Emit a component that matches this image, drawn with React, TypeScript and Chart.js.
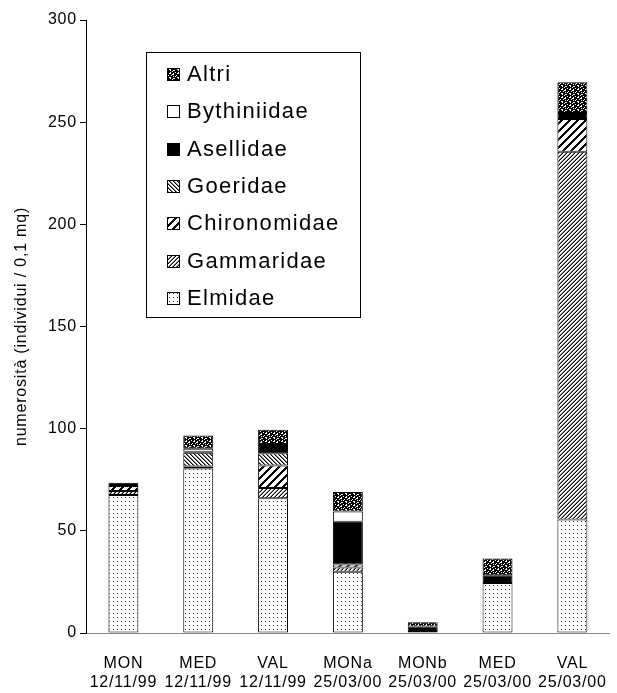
import React, { useEffect, useRef } from "react";
import { Chart, registerables } from "chart.js";

Chart.register(...registerables);

// ---- data ----
const categories: string[][] = [
  ["MON", "12/11/99"],
  ["MED", "12/11/99"],
  ["VAL", "12/11/99"],
  ["MONa", "25/03/00"],
  ["MONb", "25/03/00"],
  ["MED", "25/03/00"],
  ["VAL", "25/03/00"],
];
const elmidae = [67.5, 80.5, 66, 30, 0.5, 24.5, 55.5];
const gammaridae = [2, 0, 5, 2, 0, 0, 180];
const chironomidae = [2.5, 1, 11, 1.5, 0, 0, 16];
const goeridae = [0, 6.7, 6, 0, 0, 0, 0];
const asellidae = [1.5, 0.5, 4.5, 21, 2.7, 3.8, 3];
const bythiniidae = [0, 1.5, 0, 5, 0, 0, 0];
const altri = [0, 6.5, 7, 9.5, 2, 8.2, 15];
const seriesNames = ["Elmidae", "Gammaridae", "Chironomidae", "Goeridae", "Asellidae", "Bythiniidae", "Altri"];
const yMin = 0;
const yMax = 300;
const yStep = 50;
const yTitle = "numerosità (individui / 0,1 mq)";

const FONT = "'Liberation Sans', Arial, sans-serif";

function tileFrom(rows: string[], colors: Record<string, string>): HTMLCanvasElement {
  const c = document.createElement("canvas");
  c.width = rows[0].length;
  c.height = rows.length;
  const g = c.getContext("2d")!;
  g.fillStyle = "#fff";
  g.fillRect(0, 0, c.width, c.height);
  rows.forEach((r, y) => {
    for (let x = 0; x < r.length; x++) {
      const col = colors[r[x]];
      if (col) {
        g.fillStyle = col;
        g.fillRect(x, y, 1, 1);
      }
    }
  });
  return c;
}

function makeTiles(): HTMLCanvasElement[] {
  const elm = tileFrom(["....", ".X..", "....", "...."], { X: "#333" });
  const gam = tileFrom(["..gX", ".gX.", "gX..", "X..g"], { X: "#000", g: "#888" });
  const chi = tileFrom(
    ["XXX.....", "XX.....X", "X.....XX", ".....XXX", "....XXX.", "...XXX..", "..XXX...", ".XXX...."],
    { X: "#000" }
  );
  const goe = tileFrom(["Xg..", ".Xg.", "..Xg", "g..X"], { X: "#000", g: "#777" });
  const ase = tileFrom(["X"], { X: "#000" });
  const byt = tileFrom(["."], {});
  const alt = tileFrom(
    [
      "XX.XXXX.",
      "X..XX.XX",
      "XXXX..XX",
      ".XX.XXXX",
      "XXXXX.X.",
      "X..XXXXX",
      "XX.XX..X",
      "XXXX.XXX",
    ],
    { X: "#000" }
  );
  return [elm, gam, chi, goe, ase, byt, alt];
}

export default function App() {
  const ref = useRef<HTMLCanvasElement | null>(null);

  useEffect(() => {
    const canvas = ref.current!;
    const ctx = canvas.getContext("2d")!;
    const tiles = makeTiles();
    const patterns = tiles.map((t) => ctx.createPattern(t, "repeat")!);
    const seriesData = [elmidae, gammaridae, chironomidae, goeridae, asellidae, bythiniidae, altri];

    const spacingPlugin = {
      id: "spacing",
      beforeDraw(chart: any) {
        chart.ctx.letterSpacing = "0.8px";
      },
    };

    const legendPlugin = {
      id: "boxLegend",
      afterDraw(chart: any) {
        const c = chart.ctx as CanvasRenderingContext2D;
        const area = chart.chartArea;
        const bx = area.left + 60;
        const by = area.top + 32;
        const bw = 214;
        const bh = 265;
        c.save();
        c.fillStyle = "#fff";
        c.fillRect(bx, by, bw, bh);
        c.strokeStyle = "#000";
        c.lineWidth = 1;
        c.strokeRect(bx + 0.5, by + 0.5, bw, bh);
        (c as any).letterSpacing = "1.3px";
        c.font = `22px ${FONT}`;
        c.textBaseline = "middle";
        c.textAlign = "left";
        const order = [6, 5, 4, 3, 2, 1, 0];
        order.forEach((si, i) => {
          const cy = by + 22 + i * 37.3;
          const sx = bx + 21;
          c.fillStyle = patterns[si];
          c.fillRect(sx, Math.round(cy - 6), 13, 13);
          c.strokeStyle = "#000";
          c.strokeRect(sx + 0.5, Math.round(cy - 6) + 0.5, 12, 12);
          c.fillStyle = "#000";
          c.fillText(seriesNames[si], bx + 41, cy + 1);
        });
        c.restore();
      },
    };

    const chart = new Chart(ctx, {
      type: "bar",
      data: {
        labels: categories as any,
        datasets: seriesNames.map((name, i) => ({
          label: name,
          data: seriesData[i],
          backgroundColor: patterns[i] as any,
          borderColor: "#000",
          borderWidth: 1,
          borderSkipped: false,
          categoryPercentage: 1,
          barPercentage: 0.4,
        })),
      },
      options: {
        responsive: false,
        animation: false,
        layout: { padding: { left: 0, top: 20, right: 7, bottom: 0 } },
        plugins: { legend: { display: false }, tooltip: { enabled: false } },
        scales: {
          x: {
            stacked: true,
            grid: { display: false },
            border: { display: true, color: "#888", width: 1 },
            ticks: {
              color: "#000",
              font: { family: FONT, size: 16 },
              padding: 13,
              maxRotation: 0,
              autoSkip: false,
            },
            afterFit: (s: any) => {
              s.height = 60;
            },
          },
          y: {
            stacked: true,
            min: yMin,
            max: yMax,
            ticks: {
              stepSize: yStep,
              color: "#000",
              font: { family: FONT, size: 16 },
              padding: 3,
            },
            grid: { drawOnChartArea: false, drawTicks: true, tickLength: 6, color: "#000" },
            border: { display: true, color: "#000", width: 1 },
            title: {
              display: true,
              text: yTitle,
              color: "#000",
              font: { family: FONT, size: 16 },
              padding: { top: 12, bottom: 0 },
            },
            afterFit: (s: any) => {
              s.width = 86;
            },
          },
        },
      },
      plugins: [spacingPlugin, legendPlugin],
    });
    return () => chart.destroy();
  }, []);

  return (
    <div style={{ position: "absolute", left: 0, top: 0, width: 617, height: 693, background: "#fff" }}>
      <canvas ref={ref} width={617} height={693} style={{ display: "block" }} />
    </div>
  );
}
